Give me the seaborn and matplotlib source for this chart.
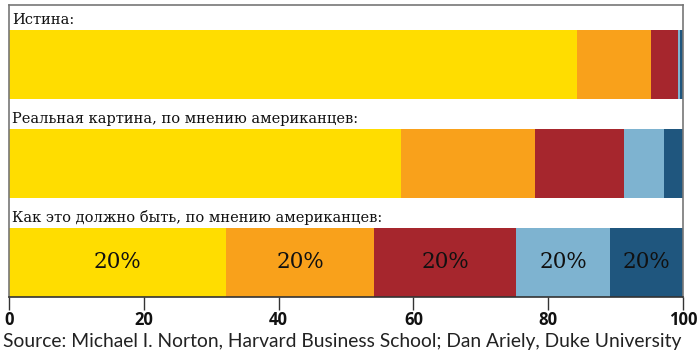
import matplotlib
matplotlib.use("Agg")
import matplotlib.pyplot as plt
import seaborn as sns
import pandas as pd
import numpy as np

# rows of the chart (top to bottom)
rows = ["Истина:",
        "Реальная картина, по мнению американцев:",
        "Как это должно быть, по мнению американцев:"]

# share of wealth per quintile (richest first)
q1 = [84.3, 58.2, 32.2]
q2 = [11.0, 19.9, 22.0]
q3 = [4.0, 13.1, 21.0]
q4 = [0.3, 6.0, 14.0]
q5 = [0.4, 2.8, 10.8]

bar_labels = ["20%", "20%", "20%", "20%", "20%"]
xticks = [0, 20, 40, 60, 80, 100]
xtick_labels = ["0", "20", "40", "60", "80", "100"]
colors = ["#FFDD00", "#F9A11B", "#A6262D", "#7EB3D0", "#1F567E"]
source = "Source: Michael I. Norton, Harvard Business School; Dan Ariely, Duke University"

df = pd.DataFrame({"row": rows, "q1": q1, "q2": q2, "q3": q3, "q4": q4, "q5": q5})
parts = ["q1", "q2", "q3", "q4", "q5"]
cum = df[parts].cumsum(axis=1)

sns.set_style("white", {"xtick.bottom": True})
fig = plt.figure(figsize=(7.0, 3.56), dpi=100)
ax = fig.add_axes([9/700, 1-297/356, 674/700, 292/356])

# draw cumulative bars back to front to get a stacked look
for k in range(len(parts) - 1, -1, -1):
    sns.barplot(x=cum[parts[k]], y=df["row"], color=colors[k], orient="h",
                width=0.7, linewidth=0, saturation=1, ax=ax)

ax.set_xlim(0, 100)
ax.set_ylim(2.35, -0.6)
ax.set_ylabel("")
ax.set_xlabel("")
ax.set_yticks([])
ax.tick_params(axis="x", bottom=True, direction="out", length=9, width=1,
               color="#333333", pad=1)
ax.set_xticks(xticks, labels=xtick_labels)
for s in ["left", "right", "top"]:
    ax.spines[s].set_color("#777777")
    ax.spines[s].set_linewidth(1.2)
ax.spines["bottom"].set_color("#333333")
ax.spines["bottom"].set_linewidth(1.2)

# row titles above the bars
for i, r in enumerate(rows):
    ax.text(0.45, i - 0.45, r, va="center", ha="left", fontsize=10.5,
            family="DejaVu Serif", color="#111111")

# percentage labels in the last bar
last = len(rows) - 1
starts = np.concatenate([[0], cum.iloc[last].values[:-1]])
widths = df[parts].iloc[last].values
for j in range(len(parts)):
    ax.text(starts[j] + widths[j] / 2, last, bar_labels[j], ha="center",
            va="center", fontsize=15.5, family="DejaVu Serif", color="#111111")

fig.text(3/700, 1-347/356, source, ha="left", va="baseline", fontsize=13.9,
         family="Lato", color="#222222")

# bold tick labels, set after a draw so they stick
fig.canvas.draw()
for t in ax.get_xticklabels():
    t.set_family(["Open Sans", "DejaVu Sans"])
    t.set_fontweight("bold")
    t.set_fontsize(12)
    t.set_color("#111111")

fig.savefig("out.png", dpi=100)
